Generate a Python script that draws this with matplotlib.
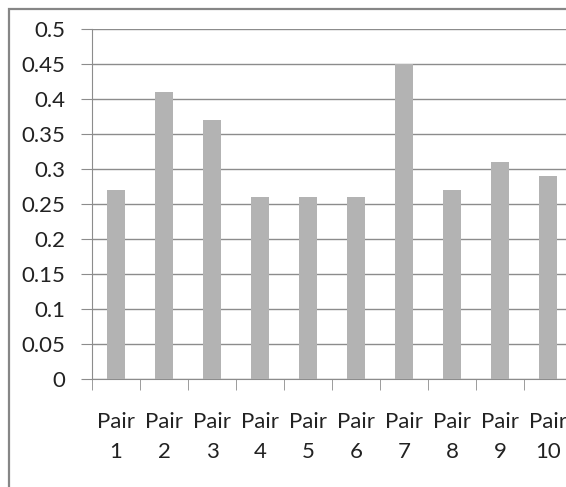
import matplotlib.pyplot as plt
from matplotlib.patches import Rectangle

# pair scores
pairs = ['Pair\n1', 'Pair\n2', 'Pair\n3', 'Pair\n4', 'Pair\n5',
         'Pair\n6', 'Pair\n7', 'Pair\n8', 'Pair\n9', 'Pair\n10']
scores = [0.27, 0.41, 0.37, 0.26, 0.26, 0.26, 0.45, 0.27, 0.31, 0.29]
yticks = [0, 0.05, 0.1, 0.15, 0.2, 0.25, 0.3, 0.35, 0.4, 0.45, 0.5]
ylabels = ['0', '0.05', '0.1', '0.15', '0.2', '0.25', '0.3', '0.35', '0.4', '0.45', '0.5']

W, H = 566, 487
fig = plt.figure(figsize=(W / 100, H / 100), dpi=100)
plt.rcParams['font.family'] = ['Lato', 'DejaVu Sans']

# chart frame (runs off the right and bottom edge)
fig.patches.append(Rectangle((9 / W, -0.1), 1.2, (H - 9) / H + 0.1,
                             transform=fig.transFigure, fill=False,
                             edgecolor='#868686', linewidth=1.6))

ax = fig.add_axes([92 / W, 108 / H, 480 / W, 350 / H])
x = list(range(len(pairs)))
ax.bar(x, scores, width=0.39, color='#b3b3b3', zorder=3)

ax.set_xlim(-0.5, len(pairs) - 0.5)
ax.set_ylim(0, 0.5)
ax.set_yticks(yticks)
ax.set_yticklabels(ylabels, fontsize=16, color='#222222')
ax.yaxis.grid(True, color='#8c8c8c', linewidth=1.0, zorder=0)

# category labels centred, tick marks on the boundaries
ax.set_xticks(x)
ax.set_xticklabels(pairs, fontsize=16, color='#222222', linespacing=1.6)
ax.set_xticks([i - 0.5 for i in range(len(pairs) + 1)], minor=True)
ax.tick_params(axis='x', which='major', length=0, pad=24)
ax.tick_params(axis='x', which='minor', length=8, color='#8c8c8c', direction='out')
ax.tick_params(axis='y', length=8, color='#8c8c8c', pad=11)

for side in ['top', 'right']:
    ax.spines[side].set_visible(False)
for side in ['left', 'bottom']:
    ax.spines[side].set_color('#8c8c8c')

fig.savefig('out.png', dpi=100)
